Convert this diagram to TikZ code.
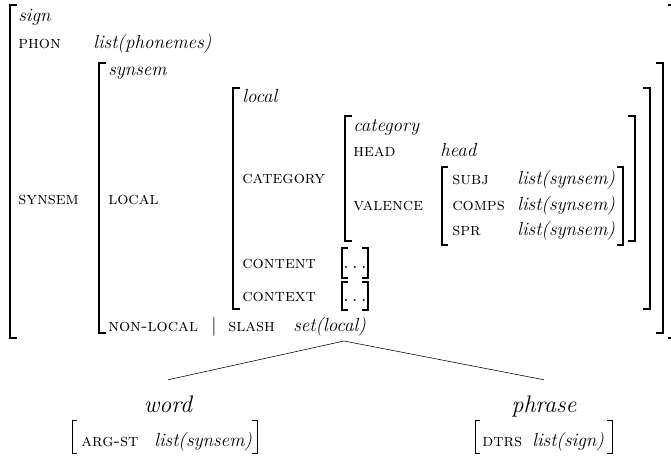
\documentclass[tikz,border=0pt]{standalone}
\usepackage{amsmath}
\usepackage{tikz}

\tikzset{
	feat/.style={anchor=base west, inner sep=0pt, font=\fontsize{12.5}{15}\selectfont\scshape},
	val/.style={anchor=base west, inner sep=0pt, font=\fontsize{13.5}{16}\selectfont\itshape},
	plain/.style={anchor=base, inner sep=0pt, font=\fontsize{13.5}{16}\selectfont},
	typ/.style={anchor=base, inner sep=0pt, inner ysep=10.9pt, font=\fontsize{17}{20}\selectfont\itshape},
	bigbrk/.style={line width=1.3pt},
	smallbrk/.style={line width=0.8pt},
	thinbrk/.style={line width=0.6pt}
}

\begin{document}
\begin{tikzpicture}[x=0.025cm, y=-0.025cm]
	\useasboundingbox (0,0) rectangle (671,459);
	% big brackets: x / top / bottom
	\foreach \x/\t/\b in {10/5/338, 99/63/333, 233/88/309, 345/116/241}
		\draw [bigbrk] (\x+7,\t) -- (\x,\t) -- (\x,\b) -- (\x+7,\b);
	\foreach \x/\t/\b in {675/5/338, 663/63/333, 650/88/309, 635/116/241}
		\draw [bigbrk] (\x-7,\t) -- (\x,\t) -- (\x,\b) -- (\x-7,\b);
	% small brackets: left / right / top / bottom
	\foreach \l/\r/\t/\b in {442/623/167/245, 342/368/248/278, 342/368/282/310}
	{
		\draw [smallbrk] (\l+6,\t) -- (\l,\t) -- (\l,\b) -- (\l+6,\b);
		\draw [smallbrk] (\r-6,\t) -- (\r,\t) -- (\r,\b) -- (\r-6,\b);
	}
	\foreach \l/\r/\t/\b in {72/257/420/453, 475/612/420/453}
	{
		\draw [thinbrk] (\l+5,\t) -- (\l,\t) -- (\l,\b) -- (\l+5,\b);
		\draw [thinbrk] (\r-5,\t) -- (\r,\t) -- (\r,\b) -- (\r-5,\b);
	}

	% sign
	\node [val] (sign) at (18,22) {sign};
	\node [feat] (phon) at (18,49) {phon};
	\node [val] (phonval) at (93,49) {list(phonemes)};
	\node [feat] (synsemf) at (18,204) {synsem};
	% synsem
	\node [val] (synsem) at (108,76) {synsem};
	\node [feat] (localf) at (108,204) {local};
	\node [feat] (nonlocal) at (108,331) {non-local};
	\node [plain] (bar) at (214,331) {\textbar};
	\node [feat] (slash) at (228,331) {slash};
	\node [val] (slashval) at (293,331) {set(local)};
	% local
	\node [val] (local) at (242,103) {local};
	\node [feat] (catf) at (242,184) {category};
	\node [feat] (content) at (242,268) {content};
	\node [plain] (contentval) at (355,268) {$\ldots$};
	\node [feat] (context) at (242,301) {context};
	\node [plain] (contextval) at (355,301) {$\ldots$};
	% category
	\node [val] (category) at (353,132) {category};
	\node [feat] (head) at (353,157) {head};
	\node [val] (headval) at (440,157) {head};
	\node [feat] (valence) at (353,210) {valence};
	\node [feat] (subj) at (452,185) {subj};
	\node [val] (subjval) at (517,185) {list(synsem)};
	\node [feat] (comps) at (452,210) {comps};
	\node [val] (compsval) at (517,210) {list(synsem)};
	\node [feat] (spr) at (452,235) {spr};
	\node [val] (sprval) at (517,235) {list(synsem)};

	% subtypes
	\coordinate (apex) at (344,341);
	\node [typ] (word) at (168,412) {word};
	\node [typ] (phrase) at (544,412) {phrase};
	\draw [thin] (apex) -- (word.north);
	\draw [thin] (apex) -- (phrase.north);
	\node [feat] (argst) at (81,446) {arg-st};
	\node [val] (argstval) at (154,446) {list(synsem)};
	\node [feat] (dtrs) at (482,446) {dtrs};
	\node [val] (dtrsval) at (532,446) {list(sign)};
\end{tikzpicture}
\end{document}
